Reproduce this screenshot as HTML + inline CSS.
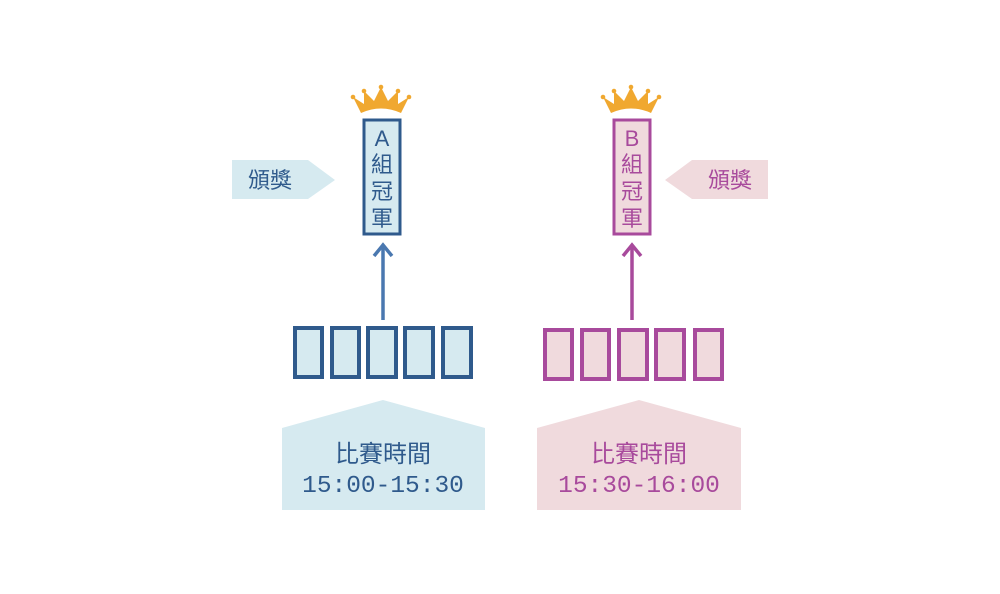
<!DOCTYPE html>
<html><head><meta charset="utf-8"><style>
body{margin:0;background:#fff;}
svg{display:block}
text{font-family:"Liberation Sans","Noto Sans CJK TC",sans-serif;}
.m{font-family:"Liberation Mono",monospace;}
</style></head><body>
<svg width="1000" height="594" viewBox="0 0 1000 594" xmlns="http://www.w3.org/2000/svg">
<defs>
<g id="crown">
<path d="M-28,-3 L-17,4 L-17,-9 L-7,1 L0,-13 L7,1 L17,-9 L17,4 L28,-3 L20,13 Q0,4 -20,13 Z" fill="#f0a830"/>
<circle cx="-28" cy="-3" r="2.3" fill="#f0a830"/><circle cx="28" cy="-3" r="2.3" fill="#f0a830"/>
<circle cx="-17" cy="-9" r="2.3" fill="#f0a830"/><circle cx="17" cy="-9" r="2.3" fill="#f0a830"/>
<circle cx="0" cy="-13" r="2.3" fill="#f0a830"/>
</g>
</defs>
<!-- Left side -->
<polygon points="232,160 308,160 335,180 308,199 232,199" fill="#d6eaf0"/>
<text x="270" y="188" font-size="22" fill="#2f5a8c" text-anchor="middle">頒獎</text>
<use href="#crown" x="381" y="100"/>
<rect x="364" y="120" width="36" height="114" fill="#d6eaf0" stroke="#2f5a8c" stroke-width="3"/>
<text x="382" y="146" font-size="22" fill="#2f5a8c" text-anchor="middle">A</text>
<text x="382" y="172" font-size="22" fill="#2f5a8c" text-anchor="middle">組</text>
<text x="382" y="199" font-size="22" fill="#2f5a8c" text-anchor="middle">冠</text>
<text x="382" y="226" font-size="22" fill="#2f5a8c" text-anchor="middle">軍</text>
<line x1="383" y1="320" x2="383" y2="245" stroke="#4a78b0" stroke-width="3.5"/>
<polyline points="374,256 383,245 392,256" fill="none" stroke="#4a78b0" stroke-width="3.5"/>
<g fill="#d6eaf0" stroke="#2f5a8c" stroke-width="4">
<rect x="295" y="328" width="27" height="49"/><rect x="332" y="328" width="27" height="49"/>
<rect x="368" y="328" width="28" height="49"/><rect x="405" y="328" width="28" height="49"/>
<rect x="443" y="328" width="28" height="49"/>
</g>
<polygon points="282,428 383,400 485,428 485,510 282,510" fill="#d6eaf0"/>
<text x="383" y="462" font-size="24" fill="#2f5a8c" text-anchor="middle">比賽時間</text>
<text x="383" y="492" font-size="24.5" fill="#2f5a8c" text-anchor="middle" class="m">15:00-15:30</text>
<!-- Right side -->
<polygon points="768,160 692,160 665,180 692,199 768,199" fill="#f0dadd"/>
<text x="730" y="188" font-size="22" fill="#a84a9c" text-anchor="middle">頒獎</text>
<use href="#crown" x="631" y="100"/>
<rect x="614" y="120" width="36" height="114" fill="#f0dadd" stroke="#a84a9c" stroke-width="3"/>
<text x="632" y="146" font-size="22" fill="#a84a9c" text-anchor="middle">B</text>
<text x="632" y="172" font-size="22" fill="#a84a9c" text-anchor="middle">組</text>
<text x="632" y="199" font-size="22" fill="#a84a9c" text-anchor="middle">冠</text>
<text x="632" y="226" font-size="22" fill="#a84a9c" text-anchor="middle">軍</text>
<line x1="632" y1="320" x2="632" y2="245" stroke="#a84a9c" stroke-width="3.5"/>
<polyline points="623,256 632,245 641,256" fill="none" stroke="#a84a9c" stroke-width="3.5"/>
<g fill="#f0dadd" stroke="#a84a9c" stroke-width="4">
<rect x="545" y="330" width="27" height="49"/><rect x="582" y="330" width="27" height="49"/>
<rect x="619" y="330" width="28" height="49"/><rect x="656" y="330" width="28" height="49"/>
<rect x="695" y="330" width="27" height="49"/>
</g>
<polygon points="537,428 639,400 741,428 741,510 537,510" fill="#f0dadd"/>
<text x="639" y="462" font-size="24" fill="#a84a9c" text-anchor="middle">比賽時間</text>
<text x="639" y="492" font-size="24.5" fill="#a84a9c" text-anchor="middle" class="m">15:30-16:00</text>
</svg>
</body></html>
